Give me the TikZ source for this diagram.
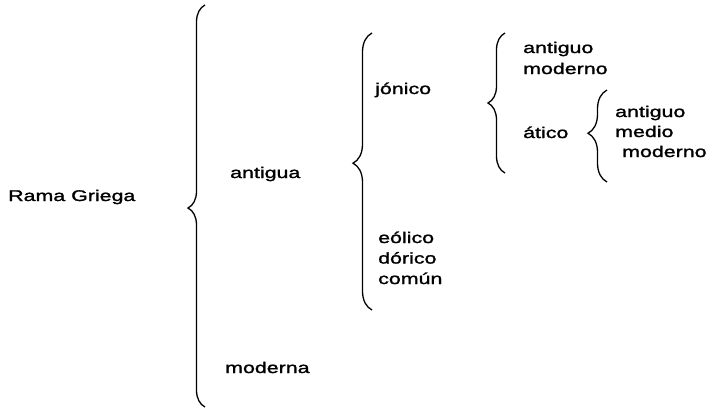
\documentclass[tikz,border=0pt]{standalone}
\usepackage{fontspec}
\setmainfont{Liberation Sans}[FakeStretch=1.38, FakeBold=1.6]
\usetikzlibrary{decorations.pathreplacing}

\begin{document}
\begin{tikzpicture}[x=1pt, y=-1pt]
		\tikzset{lbl/.style={anchor=base west, inner sep=0pt, font=\fontsize{15.5}{20.5}\selectfont}};
		\tikzset{brc/.style 2 args={decorate, line width=1.3pt, decoration={brace, amplitude=#1, aspect=#2}}};

		\useasboundingbox (0, 0) rectangle (710, 408);

		\node[lbl] (rama) at (8, 201) {Rama Griega};
		\node[lbl] (antigua) at (230, 178) {antigua};
		\node[lbl] (moderna) at (225, 373) {moderna};

		\node[lbl] (jonico) at (375, 94) {jónico};
		\node[lbl] (eolico) at (378, 243) {eólico};
		\node[lbl] (dorico) at (378, 263.5) {dórico};
		\node[lbl] (comun) at (378, 284) {común};

		\node[lbl] (antiguoA) at (523, 53) {antiguo};
		\node[lbl] (modernoA) at (523, 74) {moderno};
		\node[lbl] (atico) at (523, 138) {ático};

		\node[lbl] (antiguoB) at (615, 117) {antiguo};
		\node[lbl] (medio) at (615, 137) {medio};
		\node[lbl] (modernoB) at (622, 157) {moderno};

		% brace ends
		\coordinate (r0) at (205, 407);
		\coordinate (r1) at (205, 5);
		\coordinate (a0) at (372, 310);
		\coordinate (a1) at (372, 33);
		\coordinate (j0) at (505, 173);
		\coordinate (j1) at (505, 33);
		\coordinate (t0) at (607, 182);
		\coordinate (t1) at (607, 90);

		\draw[brc={17pt}{0.495}] (r0) -- (r1);
		\draw[brc={19pt}{0.53}] (a0) -- (a1);
		\draw[brc={17pt}{0.5}] (j0) -- (j1);
		\draw[brc={19pt}{0.53}] (t0) -- (t1);

	\end{tikzpicture}
\end{document}
